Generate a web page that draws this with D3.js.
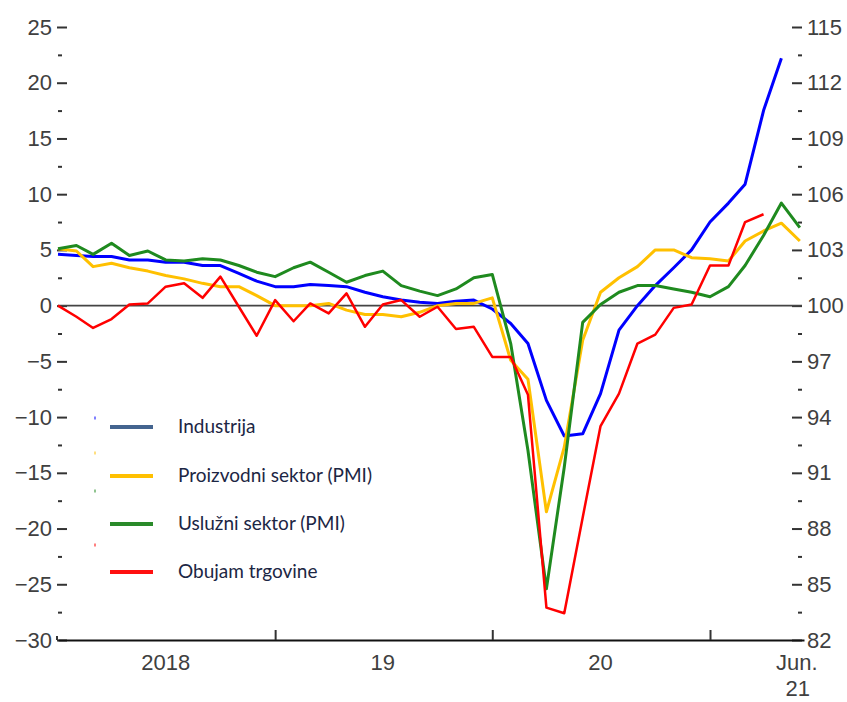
<!DOCTYPE html>
<meta charset="utf-8">
<script src="https://d3js.org/d3.v7.min.js"></script>
<style>
  body { margin: 0; background: #fff; }
  .axis text { font-family: "Liberation Sans", Arial, sans-serif; font-size: 22px; fill: #404040; }
  .axis line { stroke: #333; stroke-width: 2; }
  .legend text { font-family: Lato, "Open Sans", sans-serif; font-size: 19px; fill: #1c2644; }
</style>
<div id="chart"></div>
<script>
// monthly observations, Jan 2018 .. Jun 2021
var months = [
  "2018-01","2018-02","2018-03","2018-04","2018-05","2018-06","2018-07","2018-08","2018-09","2018-10","2018-11","2018-12",
  "2019-01","2019-02","2019-03","2019-04","2019-05","2019-06","2019-07","2019-08","2019-09","2019-10","2019-11","2019-12",
  "2020-01","2020-02","2020-03","2020-04","2020-05","2020-06","2020-07","2020-08","2020-09","2020-10","2020-11","2020-12",
  "2021-01","2021-02","2021-03","2021-04","2021-05","2021-06"
];

var industrija = [4.6,4.5,4.4,4.4,4.1,4.1,3.9,3.9,3.6,3.6,2.9,2.2,1.7,1.7,1.9,1.8,1.7,1.2,0.8,0.5,0.3,0.2,0.4,0.5,
  -0.3,-1.6,-3.4,-8.5,-11.7,-11.5,-7.9,-2.2,0.0,1.8,3.4,5.0,7.5,9.2,10.9,17.5,22.2];
var proizvodni = [5.1,4.9,3.5,3.8,3.4,3.1,2.7,2.4,2.0,1.7,1.7,0.9,0.0,0.0,0.0,0.2,-0.4,-0.8,-0.8,-1.0,-0.6,0.0,0.2,0.2,
  0.7,-4.9,-6.6,-18.5,-12.7,-3.1,1.2,2.5,3.5,5.0,5.0,4.3,4.2,4.0,5.8,6.7,7.4,5.8];
var usluzni = [5.1,5.4,4.6,5.6,4.5,4.9,4.1,4.0,4.2,4.1,3.6,3.0,2.6,3.4,3.9,3.0,2.1,2.7,3.1,1.8,1.3,0.9,1.5,2.5,
  2.8,-3.4,-13.0,-25.4,-14.5,-1.5,0.1,1.2,1.8,1.8,1.5,1.2,0.8,1.7,3.6,6.3,9.2,7.0];
var trgovina = [0.0,-1.0,-2.0,-1.2,0.1,0.2,1.7,2.0,0.7,2.6,-0.1,-2.7,0.5,-1.4,0.2,-0.7,1.1,-1.9,0.1,0.5,-1.0,-0.1,-2.1,-1.9,
  -4.6,-4.6,-8.0,-27.1,-27.6,-19.0,-10.8,-7.9,-3.4,-2.6,-0.2,0.1,3.6,3.6,7.5,8.2];

var seriesNames = ["Industrija", "Proizvodni sektor (PMI)", "Uslužni sektor (PMI)", "Obujam trgovine"];
var seriesColors = ["#0000ff", "#ffc000", "#1f8a1f", "#ff0000"];
var legendColors = ["#44648f", "#ffc000", "#2a8a2a", "#ff1010"];

var leftTicks = [25, 20, 15, 10, 5, 0, -5, -10, -15, -20, -25, -30];
var leftMinor = [22.5, 17.5, 12.5, 7.5, 2.5, -2.5, -7.5, -12.5, -17.5, -22.5, -27.5];
var rightTicks = [115, 112, 109, 106, 103, 100, 97, 94, 91, 88, 85, 82];
var rightMinor = [113.5, 110.5, 107.5, 104.5, 101.5, 98.5, 95.5, 92.5, 89.5, 86.5, 83.5];
var yearTicks = ["2019-01", "2020-01", "2021-01"];
var yearLabels = [["2018-07", "2018"], ["2019-07", "19"], ["2020-07", "20"]];

var parse = d3.timeParse("%Y-%m");

var svg = d3.select("#chart").append("svg")
  .attr("width", 847)
  .attr("height", 702);

var x = d3.scaleTime()
  .domain([new Date(2018, 0, 1), new Date(2021, 5, 8)])
  .range([58, 804]);
var y = d3.scaleLinear().domain([-30, 25]).range([640, 27]);
var y2 = d3.scaleLinear().domain([82, 115]).range([640, 27]);

var fmt = function(d) { return d < 0 ? "\u2212" + Math.abs(d) : d; };

// left axis
svg.append("g").attr("class", "axis").attr("transform", "translate(57,0)")
  .call(d3.axisLeft(y).tickValues(leftTicks).tickSize(-10).tickPadding(5).tickFormat(fmt))
  .call(function(g) { g.select(".domain").remove(); });
svg.append("g").attr("class", "axis").attr("transform", "translate(58,0)")
  .call(d3.axisLeft(y).tickValues(leftMinor).tickSize(-4).tickFormat(""))
  .call(function(g) { g.select(".domain").remove(); });

// right axis
svg.append("g").attr("class", "axis").attr("transform", "translate(802,0)")
  .call(d3.axisRight(y2).tickValues(rightTicks).tickSize(-10).tickPadding(5))
  .call(function(g) { g.select(".domain").remove(); });
svg.append("g").attr("class", "axis").attr("transform", "translate(802,0)")
  .call(d3.axisRight(y2).tickValues(rightMinor).tickSize(-4).tickFormat(""))
  .call(function(g) { g.select(".domain").remove(); });

// bottom axis
var xAxis = svg.append("g").attr("class", "axis").attr("transform", "translate(0,640)")
  .call(d3.axisBottom(x).tickValues(yearTicks.map(parse)).tickSize(-10).tickSizeOuter(0).tickFormat(""));
xAxis.select(".domain").attr("stroke", "#111").attr("stroke-width", 2);
xAxis.append("line").attr("x1", 57).attr("x2", 57).attr("y1", 0).attr("y2", -4);

var xl = svg.append("g").attr("class", "axis");
xl.selectAll("text.year").data(yearLabels).enter().append("text")
  .attr("class", "year")
  .attr("x", function(d) { return x(parse(d[0])); })
  .attr("y", 670)
  .attr("text-anchor", "middle")
  .text(function(d) { return d[1]; });
xl.append("text").attr("x", x(parse("2021-06")) - 3).attr("y", 670).attr("text-anchor", "middle").text("Jun.");
xl.append("text").attr("x", x(parse("2021-06")) - 2).attr("y", 696).attr("text-anchor", "middle").text("21");

// zero line
svg.append("line")
  .attr("x1", 58).attr("x2", 802)
  .attr("y1", y(0)).attr("y2", y(0))
  .attr("stroke", "#444").attr("stroke-width", 1.6);

// series
var allSeries = [industrija, proizvodni, usluzni, trgovina];
var widths = [3, 3, 3, 2.5];
var line = d3.line()
  .x(function(d, i) { return x(parse(months[i])); })
  .y(function(d) { return y(d); });

allSeries.forEach(function(vals, k) {
  svg.append("path")
    .attr("d", line(vals))
    .attr("fill", "none")
    .attr("stroke", seriesColors[k])
    .attr("stroke-width", widths[k])
    .attr("stroke-linejoin", "round");
});

// legend
var legend = svg.append("g").attr("class", "legend");
var legY = [427, 476, 524, 572];
var dotY = [418, 453, 491, 545];
seriesNames.forEach(function(name, k) {
  legend.append("rect")
    .attr("x", 94).attr("y", dotY[k] - 1.5)
    .attr("width", 2).attr("height", 3)
    .attr("fill", seriesColors[k]).attr("opacity", 0.5);
  legend.append("line")
    .attr("x1", 110).attr("x2", 153)
    .attr("y1", legY[k]).attr("y2", legY[k])
    .attr("stroke", legendColors[k]).attr("stroke-width", 4);
  legend.append("text")
    .attr("x", 178).attr("y", legY[k] - 2)
    .attr("dominant-baseline", "central")
    .text(name);
});
</script>
